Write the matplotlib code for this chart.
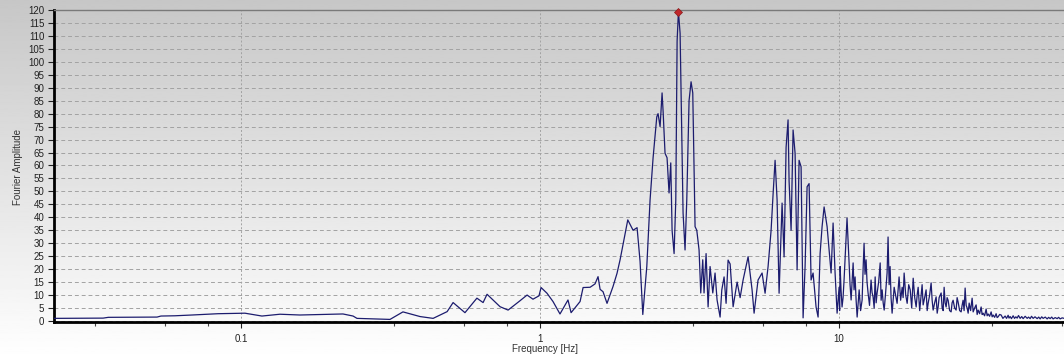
import numpy as np
import matplotlib
matplotlib.use("Agg")
import matplotlib.pyplot as plt
from matplotlib.ticker import FixedLocator, NullFormatter

plt.rcParams['font.family'] = ['Liberation Sans', 'DejaVu Sans']

# spectrum: frequency [Hz] and Fourier amplitude
freq = [
    0.0237, 0.0346, 0.0360, 0.0524, 0.0540, 0.0601, 0.0686, 0.0838, 0.1031, 0.1175,
    0.135, 0.1574, 0.2193, 0.237, 0.2443, 0.315, 0.348, 0.397, 0.439, 0.489,
    0.512, 0.561, 0.615, 0.645, 0.665, 0.735, 0.782, 0.857, 0.905, 0.947,
    0.992, 1.008, 1.055, 1.105, 1.166, 1.240, 1.270, 1.361, 1.393, 1.470,
    1.527, 1.563, 1.588, 1.624, 1.675, 1.754, 1.809, 1.852, 1.965, 2.047,
    2.111, 2.160, 2.206, 2.275, 2.333, 2.388, 2.457, 2.481, 2.520, 2.559,
    2.579, 2.618, 2.659, 2.700, 2.736, 2.764, 2.807, 2.844, 2.873, 2.902,
    2.940, 2.978, 3.008, 3.054, 3.095, 3.150, 3.199, 3.241, 3.299, 3.343,
    3.402, 3.447, 3.500, 3.535, 3.591, 3.647, 3.703, 3.781, 3.848, 3.908,
    4.000, 4.053, 4.125, 4.189, 4.254, 4.321, 4.422, 4.560, 4.667, 4.775,
    4.963, 5.117, 5.197, 5.358, 5.527, 5.656, 5.788, 5.924, 6.016, 6.109,
    6.204, 6.300, 6.447, 6.547, 6.649, 6.751, 6.804, 6.910, 7.017, 7.126,
    7.237, 7.348, 7.463, 7.579, 7.696, 7.816, 7.937, 8.060, 8.185, 8.375,
    8.507, 8.639, 8.772, 8.910, 9.118, 9.261, 9.402, 9.548, 9.696, 9.847,
    10.0, 10.04, 10.08, 10.15, 10.23, 10.31, 10.39, 10.47, 10.55, 10.63,
    10.72, 10.80, 10.88, 10.97, 11.05, 11.14, 11.22, 11.31, 11.40, 11.49,
    11.58, 11.67, 11.80, 11.94, 12.03, 12.12, 12.21, 12.31, 12.40, 12.50,
    12.64, 12.79, 12.89, 12.99, 13.10, 13.20, 13.30, 13.40, 13.56, 13.72,
    13.82, 13.93, 14.04, 14.15, 14.31, 14.47, 14.58, 14.70, 14.81, 14.92,
    15.04, 15.16, 15.28, 15.45, 15.63, 15.75, 15.87, 16.06, 16.25, 16.37,
    16.50, 16.70, 16.89, 17.09, 17.29, 17.49, 17.69, 17.90, 18.10, 18.24,
    18.38, 18.60, 18.81, 18.95, 19.10, 19.32, 19.54, 19.70, 19.85, 20.08,
    20.31, 20.47, 20.63, 20.87, 21.11, 21.28, 21.44, 21.60, 21.94, 22.11,
    22.28, 22.45, 22.62, 22.80, 22.97, 23.15, 23.42, 23.69, 23.87, 24.06,
    24.34, 24.62, 24.81, 25.00, 25.30, 25.59, 25.78, 25.98, 26.18, 26.39,
    26.60, 26.80, 27.01, 27.22, 27.53, 27.85, 28.07, 28.40, 28.72, 28.95,
    29.17, 29.51, 29.85, 30.08, 30.31, 30.66, 31.02, 31.26, 31.50, 31.87,
    32.24, 32.49, 32.74, 33.12, 33.50, 33.76, 34.02, 34.42, 34.82, 35.3,
    35.91, 36.3, 36.75, 37.0, 37.32, 37.7, 38.19, 38.6, 39.0, 39.39,
    39.8, 40.31, 40.8, 41.25, 41.9, 42.55, 43.0, 43.54, 44.0, 44.56,
    45.2, 45.95, 46.5, 47.02, 47.6, 48.12, 48.9, 49.62, 50.2, 50.78,
    51.4, 51.96, 52.8, 53.6, 54.2, 54.85, 55.7, 56.55,
]
amp = [
    1.0, 1.1, 1.4, 1.5, 1.9, 2.0, 2.3, 2.8, 3.0, 1.9,
    2.6, 2.3, 2.7, 1.9, 1.0, 0.6, 3.5, 1.7, 1.0, 3.6,
    7.1, 3.2, 8.8, 7.1, 10.3, 5.5, 4.2, 7.8, 10.0, 8.4,
    9.7, 12.9, 10.7, 7.5, 2.7, 8.1, 3.2, 7.5, 12.9, 13.0,
    14.3, 17.1, 12.2, 11.3, 6.8, 13.3, 18.4, 23.6, 39.0, 35.0,
    36.0, 23.0, 2.5, 21.0, 46.7, 63.0, 78.8, 80.0, 75.0, 88.0,
    81.0, 64.7, 63.0, 49.4, 61.0, 35.0, 26.0, 46.7, 108.0, 119.4,
    111.0, 72.5, 41.7, 27.4, 46.7, 85.0, 92.3, 88.0, 36.4, 35.0,
    27.4, 10.8, 23.6, 10.8, 26.0, 5.4, 21.0, 10.8, 18.5, 8.1,
    1.5, 12.0, 17.0, 6.8, 23.5, 22.0, 5.5, 15.0, 9.0, 15.8,
    24.8, 12.0, 3.0, 15.8, 18.5, 10.7, 21.0, 35.0, 49.0, 62.0,
    46.7, 10.7, 45.5, 24.7, 67.0, 77.6, 54.0, 35.0, 73.7, 64.7,
    19.7, 62.0, 59.5, 1.2, 21.0, 51.8, 53.0, 15.8, 18.5, 5.4,
    1.5, 26.0, 36.4, 44.0, 36.4, 27.4, 18.5, 37.8, 18.5, 3.0,
    13.0, 4.0, 21.0, 12.0, 5.4, 9.0, 15.8, 24.0, 32.4, 39.7,
    30.0, 22.4, 14.0, 8.1, 15.0, 22.4, 12.0, 17.0, 8.0, 1.5,
    7.0, 12.0, 4.0, 8.1, 20.0, 30.0, 18.0, 23.6, 15.0, 10.8,
    6.0, 15.8, 11.0, 9.3, 5.0, 17.0, 7.0, 10.8, 15.0, 22.4,
    8.0, 12.0, 7.0, 4.2, 11.0, 18.5, 32.4, 14.0, 21.0, 9.0,
    3.0, 8.0, 13.0, 10.0, 6.8, 12.0, 17.0, 8.0, 13.0, 9.0,
    18.5, 10.0, 6.8, 14.0, 12.0, 5.0, 16.5, 9.0, 5.4, 10.0,
    13.0, 4.0, 10.0, 14.0, 6.2, 9.0, 12.0, 4.0, 6.8, 10.0,
    14.7, 8.0, 4.2, 7.0, 9.3, 3.0, 5.4, 9.0, 10.8, 5.0,
    4.0, 13.0, 7.0, 5.4, 9.0, 8.0, 4.0, 3.5, 7.0, 8.0,
    5.0, 4.2, 9.0, 7.3, 4.0, 3.5, 6.0, 8.0, 4.0, 12.7,
    6.0, 5.0, 3.0, 6.9, 4.0, 8.8, 3.5, 5.0, 6.2, 2.5,
    4.2, 2.8, 5.4, 2.5, 3.0, 2.0, 4.6, 2.0, 2.7, 1.8,
    3.5, 1.6, 2.3, 1.4, 2.8, 1.3, 1.6, 2.5, 2.3, 1.0,
    1.9, 1.0, 2.2, 1.1, 1.7, 0.9, 2.0, 1.0, 1.6, 1.1,
    2.1, 1.0, 1.7, 0.9, 1.8, 1.0, 1.5, 0.9, 1.8, 1.0,
    1.6, 0.9, 1.5, 0.8, 1.6, 1.0, 1.5, 0.8, 1.4, 0.9,
    1.5, 0.8, 1.3, 0.9, 1.4, 0.8, 1.2, 1.0,
]

peak_freq = 2.902
peak_amp = 119.4

x_major = [0.1, 1, 10]
x_major_labels = ['0.1', '1', '10']
y_ticks = list(range(0, 125, 5))

W, H = 1064, 360
fig = plt.figure(figsize=(W / 100, H / 100), dpi=100)

# gradient background over the whole figure
bg = fig.add_axes([0, 0, 1, 1], zorder=-10)
grad = np.linspace(0.78, 1.0, 256).reshape(-1, 1)
bg.imshow(grad, cmap='gray', vmin=0, vmax=1, aspect='auto', extent=[0, 1, 0, 1], origin='upper')
bg.set_axis_off()

ax = fig.add_axes([54 / W, 1 - 322 / H, 1 - 54 / W, (322 - 10) / H])
ax.set_facecolor('none')
ax.set_xscale('log')
ax.set_xlim(0.0237, 56.5)
ax.set_ylim(-0.4, 120)

ax.plot(freq, amp, color='#1c1c6e', lw=0.9, zorder=3)
ax.plot([peak_freq], [peak_amp], marker='D', color='#c0272d', markersize=4,
        markeredgecolor='#8a1a1a', markeredgewidth=0.5, zorder=4, clip_on=False)

ax.xaxis.set_major_locator(FixedLocator(x_major))
ax.set_xticklabels(x_major_labels)
minor = [d * m for d in (0.01, 0.1, 1, 10) for m in (3.25, 5.55, 7.75)]
ax.xaxis.set_minor_locator(FixedLocator(minor))
ax.xaxis.set_minor_formatter(NullFormatter())
ax.set_yticks(y_ticks)

ax.tick_params(axis='both', which='major', labelsize=7, colors='#222222', length=4, width=0.8, pad=3)
ax.tick_params(axis='x', which='major', pad=5)
ax.tick_params(axis='x', which='minor', length=3, width=0.8, color='#444444')

for y in y_ticks:
    ax.axhline(y, color='#a2a2a2', lw=0.7, ls=(0, (4, 3)), zorder=1)
for x in x_major:
    ax.axvline(x, color='#a2a2a2', lw=0.7, ls=(0, (2, 2)), zorder=1)

ax.spines['left'].set_linewidth(2)
ax.spines['bottom'].set_linewidth(2)
ax.spines['top'].set_color('#7a7a7a')
ax.spines['top'].set_linewidth(1)
ax.spines['right'].set_visible(False)

fig.text(18 / W, 1 - 167 / H, 'Fourier Amplitude', rotation=90, ha='center', va='center',
         fontsize=7, color='#333333')
fig.text(545 / W, 1 - 349 / H, 'Frequency [Hz]', ha='center', va='center',
         fontsize=7, color='#333333')

fig.savefig('out.png', dpi=100)
